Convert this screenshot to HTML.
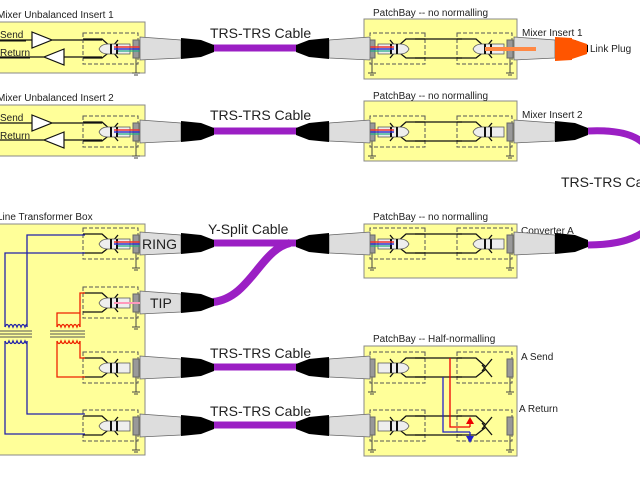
<!DOCTYPE html>
<html><head><meta charset="utf-8"><style>
html,body{margin:0;padding:0;background:#fff;width:640px;height:480px;overflow:hidden}
svg{display:block}
text{font-family:"Liberation Sans",sans-serif;fill:#222}
</style></head><body>
<svg width="640" height="480" viewBox="0 0 640 480" xmlns="http://www.w3.org/2000/svg">
<defs>
 <g id="jk">
  <rect x="-55" y="-15" width="55" height="31" fill="none" stroke="#555" stroke-width="1" stroke-dasharray="4,2"/>
  <path d="M-55,-9 H-36 L-26,0 M-30,4 L-20,-8" fill="none" stroke="#111" stroke-width="1.3"/>
  <path d="M-55,10 H-36 L-26,2 M-30,-2 L-20,10" fill="none" stroke="#111" stroke-width="1.3"/>
  <line x1="-2" y1="10" x2="-2" y2="25" stroke="#444"/>
  <line x1="-6" y1="25" x2="2" y2="25" stroke="#444"/>
  <line x1="-4" y1="27" x2="0" y2="27" stroke="#444"/>
  <rect x="-5" y="-8" width="6" height="18" fill="#999" stroke="#666"/>
 </g>
 <g id="tip">
  <path d="M-4,-4 H-26 Q-33,-4 -35,1 Q-33,6 -26,6 H-4 Z" fill="#eee" stroke="#555" stroke-width=".8"/>
  <rect x="-24" y="-4" width="2" height="10" fill="#111"/>
  <rect x="-18" y="-4" width="2" height="10" fill="#111"/>
 </g>
 <g id="plug">
  <path d="M1,-11 L42,-8 L42,10 L1,12 Z" fill="#ddd" stroke="#666" stroke-width=".8"/>
  <path d="M42,-10 L62,-8 L75,-3 L75,4 L62,9 L42,11 Z" fill="#000"/>
 </g>
 <g id="wires">
  <line x1="-20" y1="-1" x2="42" y2="-1" stroke="#e33" stroke-width="1.5"/>
  <line x1="-20" y1="1" x2="42" y2="1" stroke="#33c" stroke-width="1.5"/>
  <line x1="-16" y1="3" x2="42" y2="3" stroke="#2a8" stroke-width="1.2"/>
 </g>
</defs>

<g fill="#ffff99" stroke="#888">
 <rect x="-2" y="22" width="147" height="51"/>
 <rect x="-2" y="105" width="147" height="51"/>
 <rect x="-2" y="224" width="147" height="231"/>
 <rect x="364" y="19" width="153" height="60"/>
 <rect x="364" y="101" width="153" height="60"/>
 <rect x="364" y="224" width="153" height="54"/>
 <rect x="364" y="346" width="153" height="110"/>
</g>

<g font-size="10">
 <text x="-3" y="18">Mixer Unbalanced Insert 1</text>
 <text x="-3" y="101">Mixer Unbalanced Insert 2</text>
 <text x="-3" y="220">Line Transformer Box</text>
 <text x="373" y="16">PatchBay -- no normalling</text>
 <text x="373" y="99">PatchBay -- no normalling</text>
 <text x="373" y="220">PatchBay -- no normalling</text>
 <text x="373" y="342">PatchBay -- Half-normalling</text>
 <text x="522" y="36">Mixer Insert 1</text>
 <text x="522" y="118">Mixer Insert 2</text>
 <text x="521" y="234">Converter A</text>
 <text x="521" y="360">A Send</text>
 <text x="519" y="412">A Return</text>
 <text x="590" y="52">Link Plug</text>
 <text x="0" y="38">Send</text>
 <text x="0" y="56">Return</text>
 <text x="0" y="121">Send</text>
 <text x="0" y="139">Return</text>
</g>
<g font-size="14">
 <text x="210" y="38">TRS-TRS Cable</text>
 <text x="210" y="120">TRS-TRS Cable</text>
 <text x="208" y="234">Y-Split Cable</text>
 <text x="210" y="358">TRS-TRS Cable</text>
 <text x="210" y="416">TRS-TRS Cable</text>
 <text x="561" y="187">TRS-TRS Ca</text>
</g>

<g fill="#fff" stroke="#111" stroke-width="1.2">
 <path d="M0,40 H32 M32,32 L52,40 L32,48 Z M52,40 H102"/>
 <path d="M0,57 H44 M64,49 L44,57 L64,65 Z M64,57 H102"/>
 <path d="M0,123 H32 M32,115 L52,123 L32,131 Z M52,123 H102"/>
 <path d="M0,140 H44 M64,132 L44,140 L64,148 Z M64,140 H102"/>
</g>
<g stroke="#111" fill="none"><line x1="0" y1="41" x2="26" y2="41"/><line x1="0" y1="58" x2="30" y2="58"/></g>

<g stroke="#9b1fc4" fill="none" stroke-width="7">
 <line x1="213" y1="48" x2="297" y2="48"/>
 <line x1="213" y1="131" x2="297" y2="131"/>
 <line x1="213" y1="243" x2="297" y2="243"/>
 <path d="M213,302 C250,298 260,250 290,243" stroke-width="8"/>
 <line x1="213" y1="367" x2="297" y2="367"/>
 <line x1="213" y1="425" x2="297" y2="425"/>
 <path d="M588,131 C610,130 630,132 642,142"/>
 <path d="M588,245 C610,245 628,242 642,233"/>
</g>

<g>
 <use href="#jk" x="138" y="48"/><use href="#tip" x="134" y="48"/><use href="#wires" x="134" y="48"/><use href="#plug" x="139" y="48"/>
 <use href="#jk" x="138" y="131"/><use href="#tip" x="134" y="131"/><use href="#wires" x="134" y="131"/><use href="#plug" x="139" y="131"/>
 <use href="#jk" x="138" y="243"/><use href="#tip" x="134" y="243"/><use href="#wires" x="134" y="243"/><use href="#plug" x="139" y="243"/>
 <use href="#jk" x="138" y="302"/><use href="#tip" x="134" y="302"/><use href="#plug" x="139" y="302"/>
 <use href="#jk" x="138" y="367"/><use href="#tip" x="134" y="367"/><use href="#plug" x="139" y="367"/>
 <use href="#jk" x="138" y="425"/><use href="#tip" x="134" y="425"/><use href="#plug" x="139" y="425"/>
</g>
<line x1="114" y1="303" x2="140" y2="303" stroke="#f9b" stroke-width="2"/>
<text x="142" y="249" font-size="14" fill="#111">RING</text>
<text x="150" y="308" font-size="14" fill="#111">TIP</text>

<g>
 <g transform="translate(370,48) scale(-1,1)"><use href="#jk"/><use href="#tip" x="-4"/><use href="#wires" x="-4"/><use href="#plug" x="-1"/></g>
 <use href="#jk" x="512" y="48"/><use href="#tip" x="508" y="48"/><use href="#plug" x="513" y="48"/>
 <g transform="translate(370,131) scale(-1,1)"><use href="#jk"/><use href="#tip" x="-4"/><use href="#wires" x="-4"/><use href="#plug" x="-1"/></g>
 <use href="#jk" x="512" y="131"/><use href="#tip" x="508" y="131"/><use href="#plug" x="513" y="131"/>
 <g transform="translate(370,243) scale(-1,1)"><use href="#jk"/><use href="#tip" x="-4"/><use href="#wires" x="-4"/><use href="#plug" x="-1"/></g>
 <use href="#jk" x="512" y="243"/><use href="#tip" x="508" y="243"/><use href="#plug" x="513" y="243"/>
 <g transform="translate(370,367) scale(-1,1)"><use href="#jk"/><use href="#tip" x="-4"/><use href="#plug" x="-1"/></g>
 <use href="#jk" x="512" y="367"/>
 <g transform="translate(370,425) scale(-1,1)"><use href="#jk"/><use href="#tip" x="-4"/><use href="#plug" x="-1"/></g>
 <use href="#jk" x="512" y="425"/>
</g>
<g stroke="#111" stroke-width="1.3" fill="none">
 <path d="M415,39 H462 M415,58 H462"/>
 <path d="M415,122 H462 M415,141 H462"/>
 <path d="M415,234 H462 M415,253 H462"/>
 <path d="M415,358 H462 M415,377 H462"/>
 <path d="M415,416 H462 M415,435 H462"/>
</g>
<line x1="485" y1="49" x2="536" y2="49" stroke="#f84" stroke-width="4"/>
<path d="M555,37 L572,38 L572,60 L555,61 Z" fill="#f50"/>
<path d="M572,39 L587,44 L587,54 L572,59 Z" fill="#f50"/>
<path d="M450,358 V427 H470" stroke="#e00" fill="none" stroke-width="1.3"/>
<path d="M443,377 V432 H470" stroke="#22c" fill="none" stroke-width="1.3"/>
<path d="M470,427 V422" stroke="#e00" stroke-width="1.3"/><path d="M466,424 L470,417 L474,424 Z" fill="#e00"/>
<path d="M470,432 V437" stroke="#22c" stroke-width="1.3"/><path d="M466,436 L470,443 L474,436 Z" fill="#22c"/>

<g stroke="#555" stroke-width="1">
 <path d="M0,331 H32 M0,334 H32 M0,337 H32"/>
 <path d="M50,331 H85 M50,334 H85 M50,337 H85"/>
</g>
<g fill="none" stroke-width="1.3">
 <path d="M27,327 V235 H85" stroke="#22a"/>
 <path d="M5,327 V253 H85" stroke="#22a"/>
 <path d="M27,341 V414 H85" stroke="#22a"/>
 <path d="M5,341 V434 H85" stroke="#22a"/>
 <path d="M5,327 q2,-5 4,0 q2,-5 4,0 q2,-5 4,0 q2,-5 4,0 q2,-5 4,0 q2,-5 2,0" stroke="#22a"/>
 <path d="M5,341 q2,5 4,0 q2,5 4,0 q2,5 4,0 q2,5 4,0 q2,5 4,0 q2,5 2,0" stroke="#22a"/>
 <path d="M80,327 V293 H85" stroke="#e20"/>
 <path d="M57,327 V313 H80" stroke="#e20"/>
 <path d="M80,341 V358 H85" stroke="#e20"/>
 <path d="M57,341 V377 H85" stroke="#e20"/>
 <path d="M57,327 q2,-5 4,0 q2,-5 4,0 q2,-5 4,0 q2,-5 4,0 q2,-5 4,0 q2,-5 3,0" stroke="#e20"/>
 <path d="M57,341 q2,5 4,0 q2,5 4,0 q2,5 4,0 q2,5 4,0 q2,5 4,0 q2,5 3,0" stroke="#e20"/>
</g>
</svg>
</body></html>
